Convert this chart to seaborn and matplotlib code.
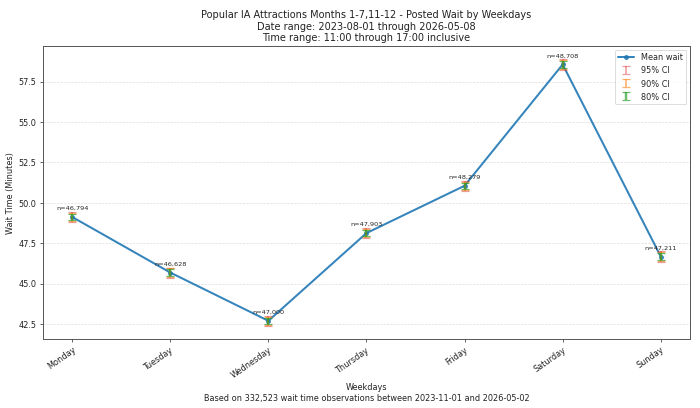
import pandas as pd
import matplotlib
matplotlib.use('Agg')
import matplotlib.pyplot as plt
import seaborn as sns

# Data
days = ['Monday', 'Tuesday', 'Wednesday', 'Thursday', 'Friday', 'Saturday', 'Sunday']
mean_wait = [49.12, 45.68, 42.69, 48.12, 51.05, 58.56, 46.67]
counts = [46794, 46628, 47000, 47903, 48279, 48708, 47211]
ci95 = [0.32, 0.31, 0.30, 0.30, 0.31, 0.33, 0.33]
ci90 = [0.27, 0.26, 0.25, 0.25, 0.26, 0.28, 0.28]
ci80 = [0.21, 0.20, 0.20, 0.20, 0.20, 0.22, 0.22]

df = pd.DataFrame({'Weekday': days, 'Mean': mean_wait, 'n': counts})

sns.set_style('ticks')
plt.rcParams['font.family'] = ['DejaVu Sans']

fig = plt.figure(figsize=(12, 7))
ax = fig.add_axes([0.061, 0.169, 0.925, 0.718])

# Confidence interval error bars
for ci, col, lab, lw, a in [(ci95, 'tab:red', '95% CI', 2, 0.45), (ci90, 'tab:orange', '90% CI', 2, 0.6),
                            (ci80, 'tab:green', '80% CI', 3, 0.7)]:
    ax.errorbar(df['Weekday'], df['Mean'], yerr=ci, fmt='none', ecolor=col,
                alpha=a, capsize=5, elinewidth=lw, capthick=1.5, label=lab, zorder=3)

sns.lineplot(data=df, x='Weekday', y='Mean', marker='o', markersize=6,
             color='tab:blue', linewidth=2.5, markeredgewidth=0, label='Mean wait',
             alpha=0.9, ax=ax, zorder=2, sort=False)

# n labels
for d, m, c in zip(days, mean_wait, counts):
    ax.annotate(f'n={c:,}', (d, m), xytext=(0, 8), textcoords='offset points',
                ha='center', va='bottom', fontsize=8, color='#222222')

ax.set_title('Popular IA Attractions Months 1-7,11-12 - Posted Wait by Weekdays\n'
             'Date range: 2023-08-01 through 2026-05-08\n'
             'Time range: 11:00 through 17:00 inclusive', fontsize=12, color='#222222')
ax.set_xlabel('Weekdays\nBased on 332,523 wait time observations between 2023-11-01 and 2026-05-02',
              fontsize=10, color='#222222')
ax.set_ylabel('Wait Time (Minutes)', fontsize=10, color='#222222')

ax.grid(axis='y', linestyle='--', linewidth=0.8, color='#cccccc', alpha=0.7)
ax.grid(axis='x', visible=False)
ax.tick_params(axis='both', labelsize=10, length=4, width=1, colors='#444444', labelcolor='#222222')
plt.setp(ax.get_xticklabels(), rotation=35, ha='right', rotation_mode='anchor')
for s in ax.spines.values():
    s.set_visible(True)
    s.set_color('#555555')
    s.set_linewidth(1.2)

ax.legend(loc='upper right', fontsize=10, frameon=True)

fig.savefig('out.png', dpi=700 / 12)
